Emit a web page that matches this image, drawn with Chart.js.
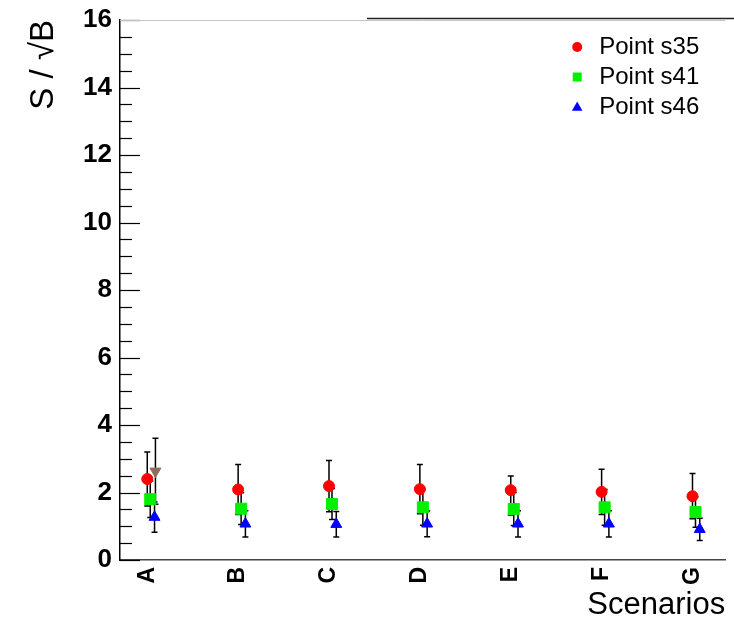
<!DOCTYPE html>
<html>
<head>
<meta charset="utf-8">
<script src="https://cdn.jsdelivr.net/npm/chart.js@4.4.1/dist/chart.umd.min.js"></script>
<style>
    html, body { margin: 0; padding: 0; background: #fff; overflow: hidden; }
    #grafico { display: block; }
</style>
</head>
<body>
<canvas id="grafico" width="734" height="621"></canvas>
<script>
// Datos
const escenarios = ['A', 'B', 'C', 'D', 'E', 'F', 'G'];

const s35 = [2.40, 2.09, 2.19, 2.10, 2.07, 2.02, 1.89];
const s35ErrArriba = [0.80, 0.74, 0.76, 0.73, 0.42, 0.67, 0.67];
const s35ErrAbajo = [0.80, 0.74, 0.76, 0.73, 0.74, 0.67, 0.67];

const s41 = [1.80, 1.52, 1.66, 1.56, 1.51, 1.56, 1.42];
const s41Err = [0.54, 0.47, 0.46, 0.53, 0.49, 0.53, 0.45];

const s46 = [1.27, 1.07, 1.06, 1.07, 1.07, 1.07, 0.91];
const s46Err = [0.45, 0.39, 0.38, 0.38, 0.39, 0.39, 0.33];

// punto extra (solo en A, sin leyenda)
const extra = [2.63];
const extraErr = [0.98];

const fuente = '"Liberation Sans", Arial, sans-serif';

// Función para armar los puntos de una serie
function puntos(valores, desplazamiento) {
    return valores.map((v, i) => ({ x: i + desplazamiento, y: v }));
}

// Barras de error (se dibujan antes que los marcadores)
const barrasError = {
    id: 'barrasError',
    beforeDatasetsDraw(chart) {
        const { ctx, scales: { x, y } } = chart;
        ctx.save();
        ctx.strokeStyle = '#000';
        ctx.lineWidth = 1.5;
        chart.data.datasets.forEach(ds => {
            if (!ds.errArriba) return;
            ds.data.forEach((p, i) => {
                const px = x.getPixelForValue(p.x);
                const yTop = y.getPixelForValue(p.y + ds.errArriba[i]);
                const yBot = y.getPixelForValue(p.y - ds.errAbajo[i]);
                ctx.beginPath();
                ctx.moveTo(px, yTop);
                ctx.lineTo(px, yBot);
                ctx.moveTo(px - 3, yTop);
                ctx.lineTo(px + 3, yTop);
                ctx.moveTo(px - 3, yBot);
                ctx.lineTo(px + 3, yBot);
                ctx.stroke();
            });
        });
        ctx.restore();
    }
};

// Marcas hacia adentro del eje Y, marco superior y borde de la caja del título
const marcasEje = {
    id: 'marcasEje',
    beforeDatasetsDraw(chart) {
        const { ctx, chartArea, scales: { y } } = chart;
        ctx.save();
        ctx.strokeStyle = '#000';
        ctx.lineWidth = 1.2;
        for (let v = y.min; v <= y.max + 1e-9; v += 0.5) {
            const py = Math.round(y.getPixelForValue(v)) + 0.5;
            const largo = (v % 2 === 0) ? 20 : 12;
            ctx.beginPath();
            ctx.moveTo(chartArea.left, py);
            ctx.lineTo(chartArea.left + largo, py);
            ctx.stroke();
        }
        ctx.strokeStyle = '#c4c4c4';
        ctx.lineWidth = 1;
        ctx.beginPath();
        ctx.moveTo(chartArea.left, chartArea.top + 0.5);
        ctx.lineTo(chartArea.right, chartArea.top + 0.5);
        ctx.stroke();
        ctx.strokeStyle = '#222';
        ctx.lineWidth = 1.5;
        ctx.beginPath();
        ctx.moveTo(chart.width / 2, chartArea.top - 1.5);
        ctx.lineTo(chart.width, chartArea.top - 1.5);
        ctx.stroke();
        ctx.restore();
    }
};

// Leyenda dentro del área del gráfico (arriba a la derecha)
function dibujarMarcador(ctx, estilo, x, y, r) {
    ctx.beginPath();
    if (estilo === 'circle') {
        ctx.arc(x, y, r, 0, Math.PI * 2);
    } else if (estilo === 'rect') {
        ctx.rect(x - r, y - r, 2 * r, 2 * r);
    } else {
        ctx.moveTo(x, y - r);
        ctx.lineTo(x + r * 0.95, y + r * 0.7);
        ctx.lineTo(x - r * 0.95, y + r * 0.7);
        ctx.closePath();
    }
    ctx.fill();
}

const leyenda = {
    id: 'leyenda',
    afterDraw(chart) {
        const { ctx, chartArea } = chart;
        const items = chart.data.datasets.filter(ds => ds.enLeyenda);
        ctx.save();
        ctx.font = '24px ' + fuente;
        ctx.textBaseline = 'middle';
        items.forEach((ds, i) => {
            const yy = chartArea.top + 27 + i * 30;
            ctx.fillStyle = ds.backgroundColor;
            dibujarMarcador(ctx, ds.pointStyle, chartArea.right - 148, yy, ds.radioLeyenda);
            ctx.fillStyle = '#000';
            ctx.fillText(ds.label, chartArea.right - 126, yy);
        });
        ctx.restore();
    }
};

function serie(label, datos, color, estilo, radio, extraOpc) {
    return Object.assign({
        label: label,
        data: datos,
        backgroundColor: color,
        borderColor: color,
        pointBackgroundColor: color,
        pointBorderColor: color,
        pointBorderWidth: 1,
        pointStyle: estilo,
        pointRadius: radio,
        showLine: false
    }, extraOpc);
}

const ctx = document.getElementById('grafico').getContext('2d');
new Chart(ctx, {
    type: 'scatter',
    data: {
        datasets: [
            serie('Point s35', puntos(s35, 0), '#ff0000', 'circle', 5.5,
                { errArriba: s35ErrArriba, errAbajo: s35ErrAbajo, enLeyenda: true, radioLeyenda: 5 }),
            serie('Point s41', puntos(s41, 0.033), '#00f000', 'rect', 7.8,
                { errArriba: s41Err, errAbajo: s41Err, enLeyenda: true, radioLeyenda: 4.5 }),
            serie('Point s46', puntos(s46, 0.08), '#0000ff', 'triangle', 6.3,
                { errArriba: s46Err, errAbajo: s46Err, enLeyenda: true, radioLeyenda: 5.5 }),
            serie('extra', puntos(extra, 0.09), '#8c6e5a', 'triangle', 6.3,
                { rotation: 180, errArriba: extraErr, errAbajo: extraErr, enLeyenda: false })
        ]
    },
    options: {
        responsive: false,
        animation: false,
        devicePixelRatio: 1,
        layout: { padding: { top: 20, right: 0, left: 0, bottom: 0 } },
        plugins: {
            legend: { display: false },
            tooltip: { enabled: false }
        },
        scales: {
            x: {
                type: 'linear',
                min: -0.3,
                max: 6.36,
                afterBuildTicks(scale) {
                    scale.ticks = escenarios.map((e, i) => ({ value: i }));
                },
                ticks: {
                    callback: v => escenarios[v] ?? '',
                    minRotation: 90,
                    maxRotation: 90,
                    autoSkip: false,
                    color: '#000',
                    padding: 7,
                    font: { size: 23, weight: 'bold', family: fuente }
                },
                grid: { drawOnChartArea: false, drawTicks: false },
                border: { display: true, color: '#444', width: 1.5 },
                title: {
                    display: true,
                    text: 'Scenarios',
                    align: 'end',
                    color: '#000',
                    font: { size: 31, family: fuente },
                    padding: { top: 0, bottom: -3 }
                },
                afterFit(scale) {
                    scale.height = 61;
                    scale.paddingLeft = 0;
                    scale.paddingRight = 0;
                }
            },
            y: {
                min: 0,
                max: 16,
                ticks: {
                    stepSize: 2,
                    color: '#000',
                    padding: 8,
                    font: { size: 26, weight: 'bold', family: fuente }
                },
                grid: { drawOnChartArea: false, drawTicks: false },
                border: { display: true, color: '#000', width: 1.5 },
                title: {
                    display: true,
                    text: 'S / √B',
                    align: 'end',
                    color: '#000',
                    font: { size: 33, family: fuente },
                    padding: { top: 24, bottom: 0 }
                },
                afterFit(scale) {
                    scale.width = 120;
                    scale.paddingTop = 0;
                    scale.paddingBottom = 0;
                }
            }
        }
    },
    plugins: [marcasEje, barrasError, leyenda]
});
</script>
</body>
</html>
